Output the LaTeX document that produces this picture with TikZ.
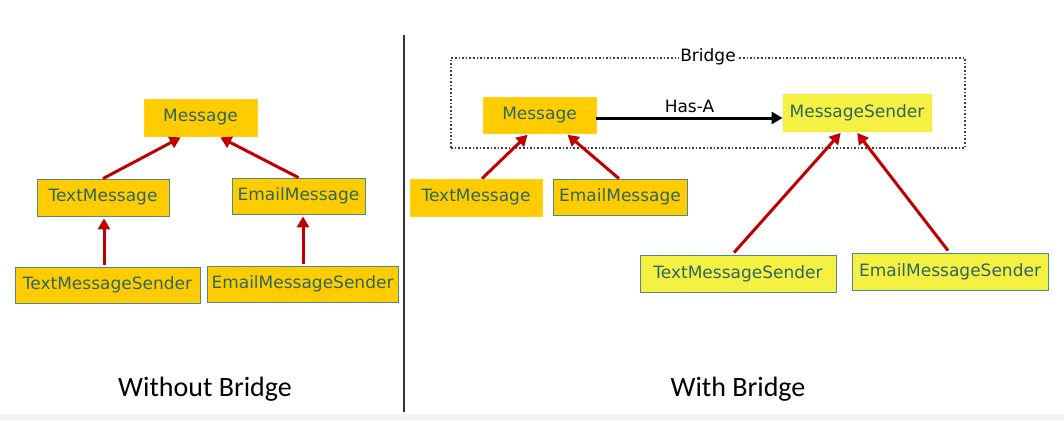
\documentclass[tikz,border=0pt]{standalone}
\usepackage{fontspec}
\setmainfont{DejaVu Sans}
\newfontfamily\calfont{Carlito}
\usetikzlibrary{arrows.meta}
\definecolor{gold}{HTML}{FFCC00}
\definecolor{lemon}{HTML}{F4F142}
\definecolor{boxtext}{HTML}{2F6663}
\definecolor{tealline}{HTML}{4F8A8B}
\definecolor{redarrow}{HTML}{C00000}
\definecolor{divline}{HTML}{333333}
\tikzset{
  box/.style={rectangle, inner sep=0pt, text=boxtext, font=\fontsize{17}{20}\selectfont, line width=0.8pt},
  goldbox/.style={box, fill=gold, draw=gold!90!white},
  goldteal/.style={box, fill=gold, draw=tealline},
  lemonbox/.style={box, fill=lemon, draw=lemon!80!gold},
  lemonteal/.style={box, fill=lemon, draw=tealline},
  inherit/.style={draw=redarrow, line width=3pt, -{Triangle[length=11pt,width=12pt]}, shorten >=2pt},
  hasa/.style={draw=black, line width=3pt, -{Triangle[length=11pt,width=12pt]}},
  caption/.style={font=\calfont\fontsize{28}{32}\selectfont, text=black}
}
\begin{document}
\begin{tikzpicture}[x=1pt,y=-1pt]
\useasboundingbox (0,0) rectangle (1064,420);
\fill[white] (0,0) rectangle (1064,420);
\fill[black!5] (0,414) rectangle (1064,420);
% divider
\draw[divline, line width=1.6pt] (404,35) -- (404,412);
% left side
\node[goldbox, minimum width=113pt, minimum height=37pt] (m1) at (200.5,117.5) {Message};
\node[goldteal, minimum width=132pt, minimum height=37pt] (tm1) at (103,197.5) {TextMessage};
\node[goldteal, minimum width=133pt, minimum height=36pt] (em1) at (298.5,196) {EmailMessage};
\node[goldteal, minimum width=185pt, minimum height=36pt] (tms1) at (107.5,285) {TextMessageSender};
\node[goldteal, minimum width=191pt, minimum height=36pt] (ems1) at (302.5,284) {EmailMessageSender};
\draw[inherit] (tm1.north) -- ([xshift=-18pt]m1.south);
\draw[inherit] (em1.north) -- ([xshift=18pt]m1.south);
\draw[inherit] ([xshift=-3.5pt,yshift=2pt]tms1.north) -- ([xshift=1pt]tm1.south);
\draw[inherit] ([xshift=0.5pt,yshift=2pt]ems1.north) -- ([xshift=4.5pt]em1.south);
% right side
\node[draw=black!75, dotted, line width=1.6pt, minimum width=514pt, minimum height=90pt, inner sep=0pt] (bridge) at (708,103) {};
\node[fill=white, inner sep=1pt, font=\fontsize{17}{20}\selectfont] (blabel) at (bridge.north) {Bridge};
\node[goldbox, minimum width=113pt, minimum height=36pt] (m2) at (539.5,115) {Message};
\node[lemonbox, minimum width=148pt, minimum height=37pt] (ms) at (857,112.5) {MessageSender};
\node[goldbox, minimum width=132pt, minimum height=37pt] (tm2) at (476,197.5) {TextMessage};
\node[goldteal, minimum width=134pt, minimum height=36pt] (em2) at (620,197) {EmailMessage};
\node[lemonteal, minimum width=196pt, minimum height=37pt] (tms2) at (738,273.5) {TextMessageSender};
\node[lemonteal, minimum width=196pt, minimum height=37pt] (ems2) at (950,271.5) {EmailMessageSender};
\draw[hasa] ([yshift=-3pt]m2.east) -- node[above, font=\fontsize{17}{20}\selectfont, text=black] {Has-A} ([yshift=-3pt]m2.east -| ms.west);
\draw[inherit] ([xshift=6pt]tm2.north) -- ([xshift=-10.5pt]m2.south);
\draw[inherit] ([xshift=-1pt]em2.north) -- ([xshift=26.5pt]m2.south);
\draw[inherit] ([xshift=-4pt,yshift=2pt]tms2.north) -- ([xshift=-15pt]ms.south);
\draw[inherit] ([xshift=-2pt,yshift=2pt]ems2.north) -- ([xshift=-1pt]ms.south);
% captions
\node[caption] (cap1) at (205,389) {Without Bridge};
\node[caption] (cap2) at (738,389) {With Bridge};
\end{tikzpicture}
\end{document}
